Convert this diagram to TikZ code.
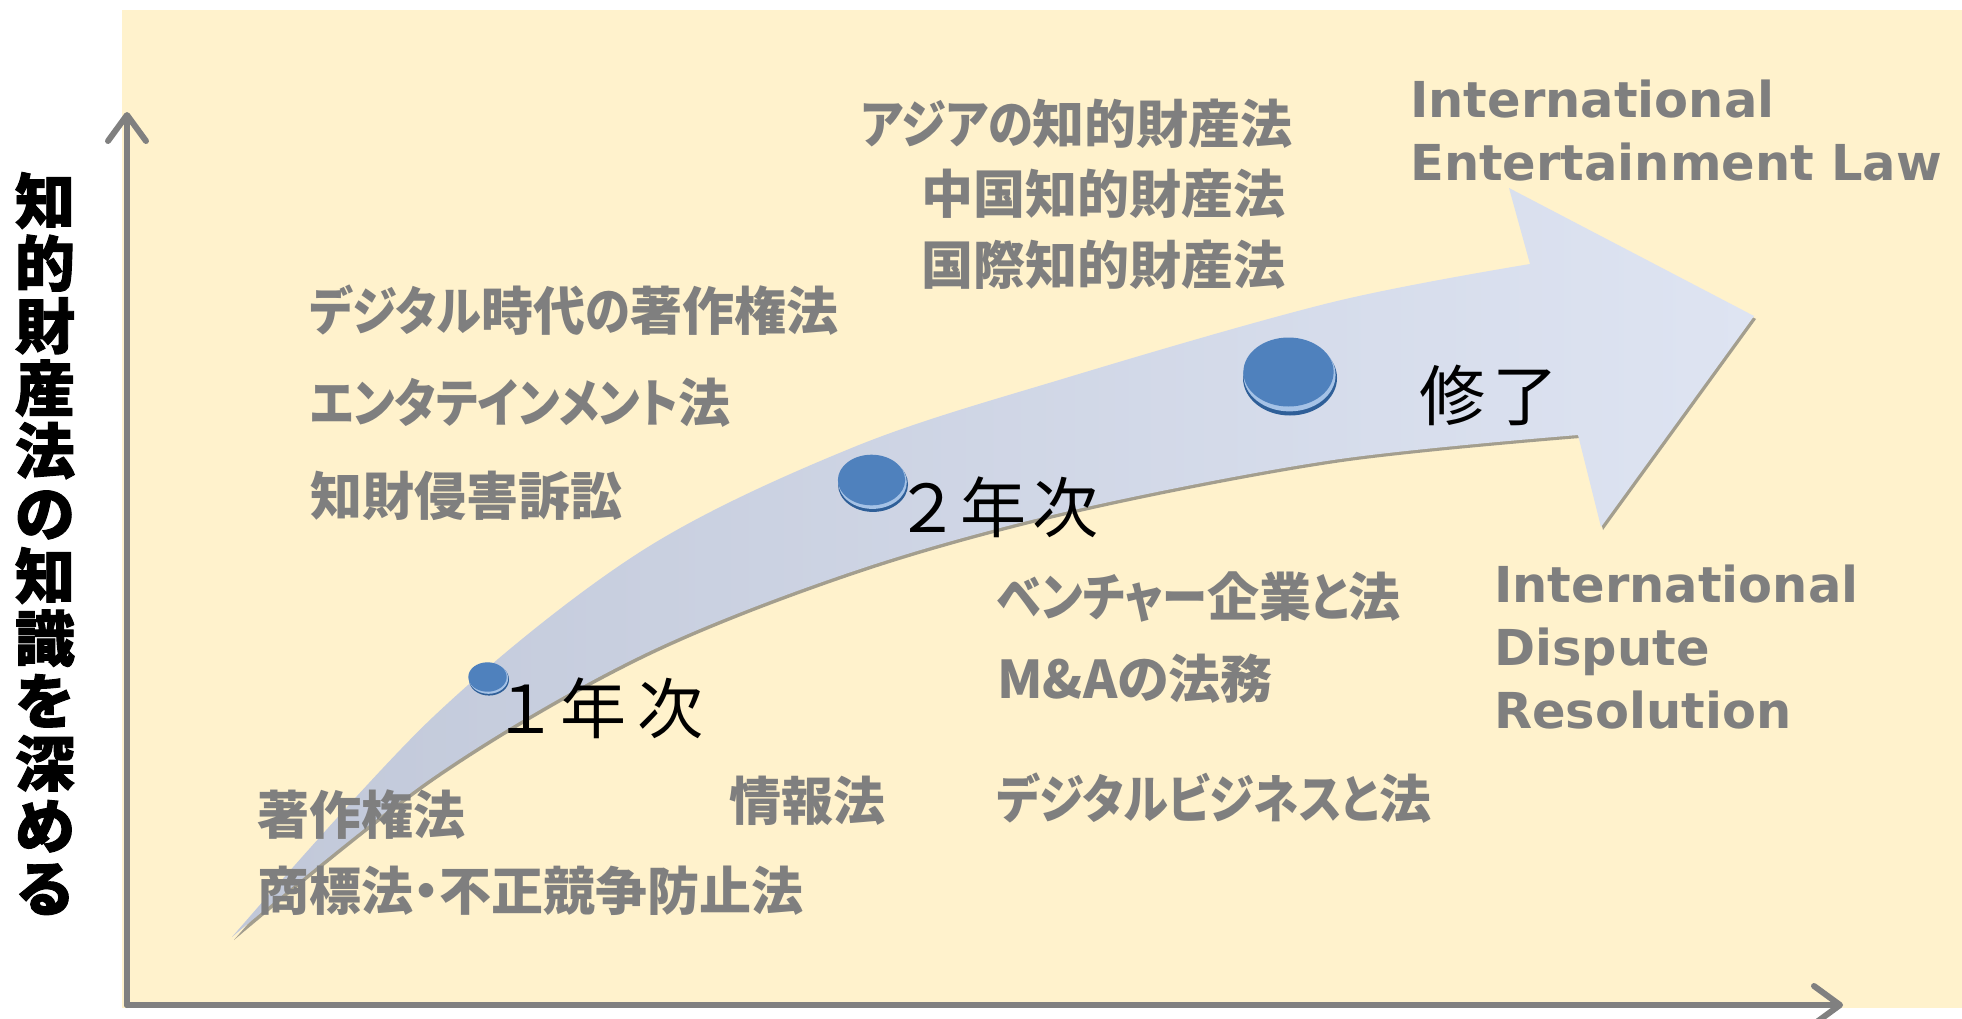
\documentclass[tikz,border=0pt]{standalone}
\usepackage{fontspec}
\usepackage{graphicx}
\usetikzlibrary{arrows.meta}
\newfontfamily\jp[RawFeature=+palt]{Noto Sans CJK JP}
\newfontfamily\jpfix{Noto Sans CJK JP}
\newfontfamily\jpheavy[BoldFeatures={FakeBold=1.6}]{Noto Sans CJK JP}
\newfontfamily\en{DejaVu Sans}
\newcommand\kn[1]{\scalebox{0.87}[1]{#1}}
\definecolor{bg}{HTML}{FFF2CC}
\definecolor{txtgray}{HTML}{7F7F7F}
\definecolor{axisgray}{HTML}{808080}
\definecolor{arrL}{HTML}{C1C8D9}
\definecolor{arrR}{HTML}{DEE4F2}
\definecolor{dotblue}{HTML}{4F81BD}
\definecolor{dotdark}{HTML}{2F5F98}
\definecolor{dotrim}{HTML}{A5C2E6}
\newcommand\ArrowShape{(232,937) -- plot[smooth,tension=0.55] coordinates {(232,937) (433,717) (640,552) (854,447) (1069,377) (1333,302) (1530,264)} -- (1509,188) -- (1754,316) -- (1601,527) -- (1578,435) -- plot[smooth,tension=0.55] coordinates {(1578,435) (1333,460) (1069,511) (854,571) (640,656) (433,777) (232,937)} -- cycle}
\newcommand\DiscDot[4]{%
  \fill[dotdark] (#1+1,#2+0.16*#4) ellipse [x radius=#3, y radius=#4];
  \fill[dotrim] (#1+0.5,#2+0.08*#4) ellipse [x radius=0.98*#3, y radius=0.97*#4];
  \fill[dotblue] (#1-0.5,#2) ellipse [x radius=0.96*#3, y radius=0.92*#4];
}
\tikzset{
  gl/.style={font=\jp\bfseries\fontsize{52}{60}\selectfont, text=txtgray, inner sep=0pt},
  el/.style={font=\en\bfseries\fontsize{49.5}{60}\selectfont, text=txtgray, inner sep=0pt, anchor=base west},
  yl/.style={font=\jpfix\fontsize{66}{70}\selectfont, text=black, inner sep=0pt, anchor=base west},
  axis/.style={draw=axisgray, line width=6pt, line cap=round, -{Straight Barb[length=26pt,width=38pt,line cap=round,line join=round]}}
}
\begin{document}
\begin{tikzpicture}[x=1pt,y=-1pt]
\useasboundingbox (0,0) rectangle (1962,1018);
\fill[bg] (122,10) rectangle (1962,1008);
% axes
\coordinate (o) at (127,1005);
\coordinate (ytop) at (127,112);
\coordinate (xend) at (1843,1005);
\draw[axis] (o) -- (ytop);
\draw[axis] (o) -- (xend);
% big arrow
\fill[black!60, opacity=0.6, shift={(2,3)}] \ArrowShape;
\shade[left color=arrL, right color=arrR] \ArrowShape;
% dots
\DiscDot{488}{677}{20}{16}
\DiscDot{872}{480}{35}{27.5}
\DiscDot{1289}{372}{47}{37.5}
% vertical title
\node[font=\jpheavy\bfseries\fontsize{60}{62.5}\selectfont, align=center, inner sep=0pt, anchor=north] (title) at (45,172) {知\\的\\財\\産\\法\\の\\知\\識\\を\\深\\め\\る};
% gray texts
\node[gl, anchor=base east] (asia) at (1293,143) {\kn{アジアの}知的財産法};
\node[gl, anchor=base east] (china) at (1286,213) {中国知的財産法};
\node[gl, anchor=base east] (intl) at (1286,284) {国際知的財産法};
\node[gl, anchor=base west] (digi) at (310,330) {\kn{デジタル}時代\kn{の}著作権法};
\node[gl, anchor=base west] (ent) at (310,422) {\kn{エンタテインメント}法};
\node[gl, anchor=base west] (suit) at (310,515) {知財侵害訴訟};
\node[gl, anchor=base west] (copy) at (257,834) {著作権法};
\node[gl, anchor=base west] (tm) at (257,910) {商標法・不正競争防止法};
\node[gl, anchor=base west] (info) at (729,820) {情報法};
\node[gl, anchor=base west] (vent) at (997,616) {\kn{ベンチャー}企業\kn{と}法};
\node[gl, anchor=base west] (ma) at (997,698) {M\&Aの法務};
\node[gl, anchor=base west] (dbiz) at (997,818) {\kn{デジタルビジネスと}法};
% english texts
\node[el] (ie1) at (1410,117) {International};
\node[el] (ie2) at (1410,180) {Entertainment Law};
\node[el] (id1) at (1494,602) {International};
\node[el] (id2) at (1494,665) {Dispute};
\node[el] (id3) at (1494,728) {Resolution};
% year labels
\node[yl] (y1) at (492,733) {１\hspace{2pt}年\hspace{11pt}次};
\node[yl] (y2) at (894,532) {２\hspace{0pt}年\hspace{6pt}次};
\node[yl] (fin) at (1419,420) {修\hspace{7pt}了};
\end{tikzpicture}
\end{document}
